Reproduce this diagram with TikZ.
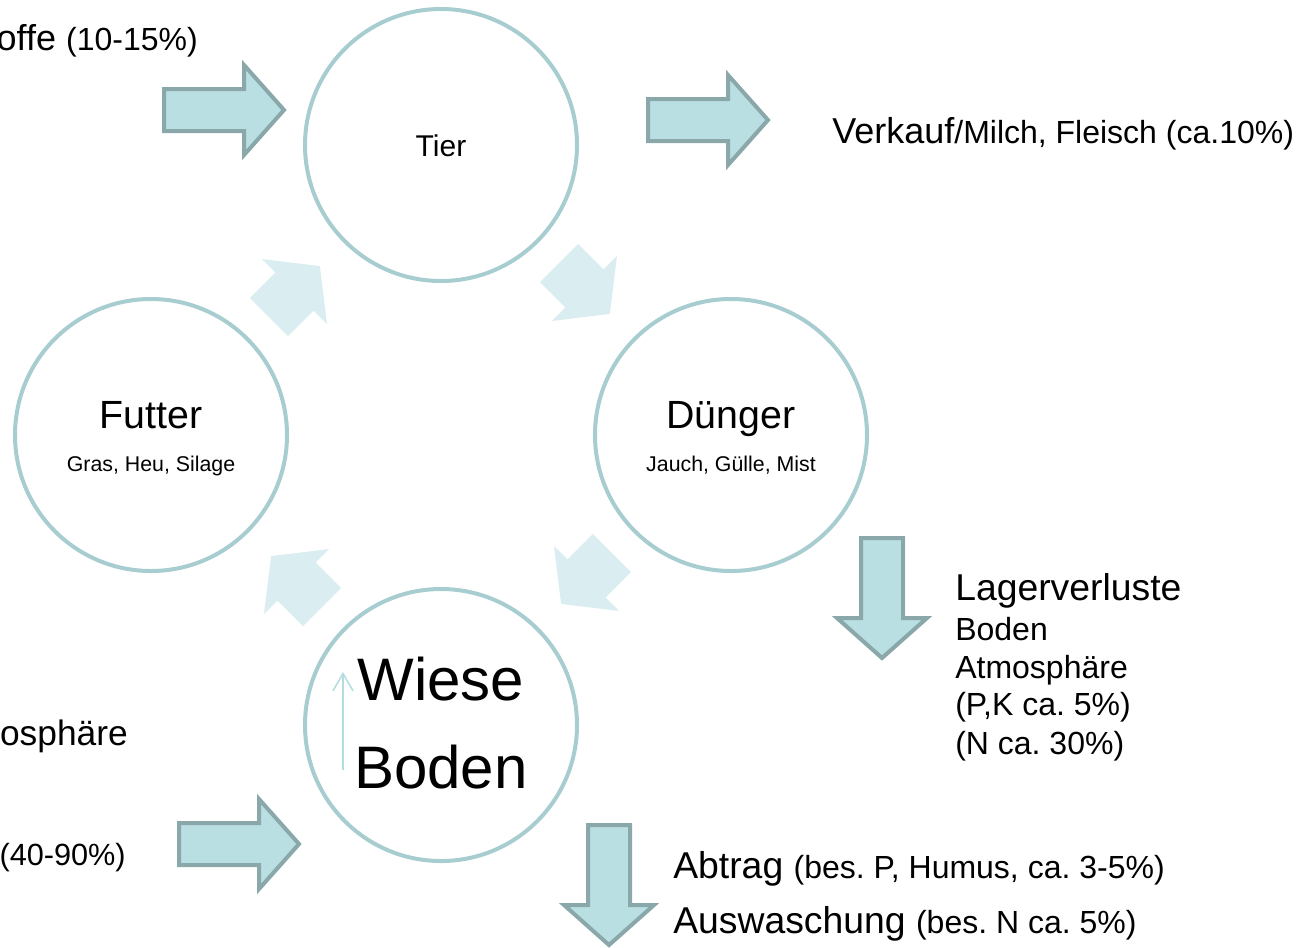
\documentclass[tikz,border=0pt]{standalone}
\usepackage{fontspec}
\setmainfont{Liberation Sans}
\usetikzlibrary{arrows.meta}
\frenchspacing
\definecolor{ringline}{HTML}{A7CDD0}
\definecolor{flowfill}{HTML}{B9DFE2}
\definecolor{flowline}{HTML}{8AA7A9}
\definecolor{cyclefill}{HTML}{DAEDF0}
\definecolor{thinline}{HTML}{B2DCDF}
\newcommand{\subsize}{\fontsize{24}{28}\selectfont}
\tikzset{
  ring/.style={circle, draw=ringline, line width=3pt, minimum size=204pt, inner sep=0pt},
  bigflow/.style={fill=flowfill, draw=flowline, line width=3pt},
  softflow/.style={fill=cyclefill},
  flowarrow/.pic={\path[bigflow] (0,-21) -- (80,-21) -- (80,-45) -- (120,0) -- (80,45) -- (80,21) -- (0,21) -- cycle;},
  cyclearrow/.pic={\path[softflow] (0,-27) -- (36,-27) -- (36,-46) -- (72,0) -- (36,46) -- (36,27) -- (0,27) -- cycle;},
  label/.style={inner sep=0pt, font=\fontsize{27}{32}\selectfont},
  sublabel/.style={inner sep=0pt, font=\subsize},
  title/.style={inner sep=0pt, font=\fontsize{29.5}{34}\selectfont, anchor=base},
  note/.style={inner sep=0pt, font=\fontsize{16}{19}\selectfont, anchor=base}
}
\begin{document}
\begin{tikzpicture}[x=0.75pt, y=-0.75pt]
  \useasboundingbox (0,0) rectangle (1308,947);
  \node[ring] (tier) at (441,145) {};
  \node[ring] (futter) at (151,435) {};
  \node[ring] (duenger) at (731,435) {};
  \node[ring] (wiese) at (441,725) {};
  \node[inner sep=0pt, anchor=base, font=\fontsize{22.5}{27}\selectfont] (tierlabel) at (441,156) {Tier};
  \node[title] (futterlabel) at (151,428) {Futter};
  \node[note] (futternote) at (151,471) {Gras, Heu, Silage};
  \node[title] (duengerlabel) at (731,428) {Dünger};
  \node[note] (duengernote) at (731,471) {Jauch, Gülle, Mist};
  \node[inner sep=0pt, anchor=base, font=\fontsize{45}{54}\selectfont] (wieselabel) at (441,700) {Wiese};
  \node[inner sep=0pt, anchor=base, font=\fontsize{45}{54}\selectfont] (bodenlabel) at (441,788) {Boden};
  \coordinate (stembottom) at (343,770);
  \coordinate (stemtop) at (343,672);
  \draw[thinline, line width=1.1pt, -{Straight Barb[length=13pt, width=15pt]}] (stembottom) -- (stemtop);
  \pic[rotate=45] at (269,317) {cyclearrow};
  \pic[rotate=-45] at (559,263) {cyclearrow};
  \pic[rotate=-135] at (612,553) {cyclearrow};
  \pic[rotate=135] at (322,607) {cyclearrow};
  \pic at (164,110) {flowarrow};
  \pic at (648,120) {flowarrow};
  \pic[rotate=-90] at (882,538) {flowarrow};
  \pic[rotate=-90] at (609,825) {flowarrow};
  \pic at (179,844) {flowarrow};
  \node[label, anchor=base east] (zukauf) at (198,50) {offe {\subsize(10-15\%)}};
  \node[label, anchor=base west] (verkauf) at (832,143) {Verkauf{\subsize/Milch, Fleisch (ca.10\%)}};
  \node[label, anchor=base west, font=\fontsize{28}{33}\selectfont] (lager) at (955,600) {Lagerverluste};
  \node[sublabel, anchor=base west] (lagerboden) at (955,640) {Boden};
  \node[sublabel, anchor=base west] (lageratmo) at (955,678) {Atmosphäre};
  \node[sublabel, anchor=base west] (lagerpk) at (955,715) {(P,K ca. 5\%)};
  \node[sublabel, anchor=base west] (lagern) at (955,754) {(N ca. 30\%)};
  \node[label, anchor=base east, font=\fontsize{26.5}{31}\selectfont] (eintragatmo) at (128,745) {osphäre};
  \node[sublabel, anchor=base east, font=\fontsize{23}{27}\selectfont] (eintrag) at (126,865) {(40-90\%)};
  \node[label, anchor=base west, font=\fontsize{28}{33}\selectfont] (abtrag) at (673,878) {Abtrag {\subsize(bes. P, Humus, ca. 3-5\%)}};
  \node[label, anchor=base west, font=\fontsize{28}{33}\selectfont] (auswaschung) at (673,933) {Auswaschung {\subsize(bes. N ca. 5\%)}};
\end{tikzpicture}
\end{document}
